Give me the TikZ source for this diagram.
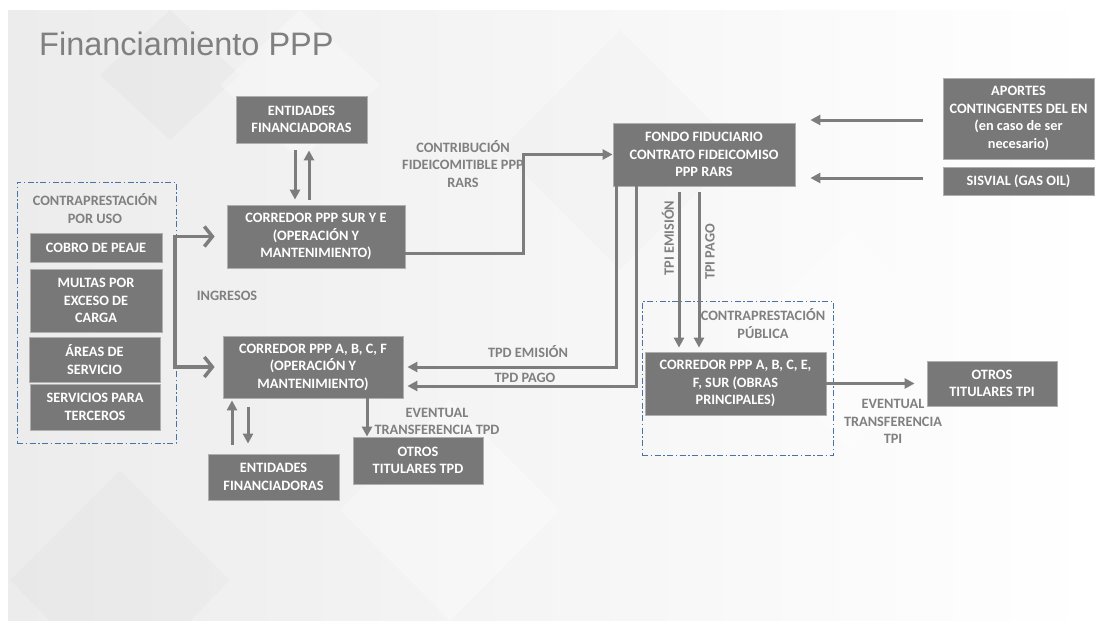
\documentclass[tikz,border=0pt]{standalone}
\usepackage{fontspec}
\setmainfont{Carlito}
\newfontfamily\titlefont{Liberation Sans}
\usetikzlibrary{arrows.meta}
\definecolor{boxgray}{RGB}{120,120,120}
\definecolor{boxedge}{RGB}{175,175,175}
\definecolor{linegray}{RGB}{125,125,125}
\definecolor{labgray}{RGB}{128,128,128}
\definecolor{dashblue}{RGB}{74,115,165}
\definecolor{bgleft}{RGB}{236,236,236}
\begin{document}
\begin{tikzpicture}[x=1pt,y=-1pt,
  box/.style={fill=boxgray, draw=boxedge, line width=0.8pt, text=white, font=\bfseries\fontsize{14.3}{17.5}\selectfont, align=center, inner sep=0pt},
  lab/.style={text=labgray, font=\bfseries\fontsize{14.3}{17.5}\selectfont, align=center, inner sep=0pt},
  conn/.style={draw=linegray, line width=3pt, -{Triangle[length=10pt,width=10pt]}},
  chev/.style={draw=linegray, line width=3.5pt, -{Straight Barb[length=8pt,width=20pt]}},
  grp/.style={draw=dashblue, line width=1pt, dash pattern=on 6pt off 2.5pt on 1.5pt off 2.5pt, inner sep=0pt}]
\useasboundingbox (0,0) rectangle (1096,621);
\fill[white] (0,0) rectangle (1096,621);
\fill[left color=bgleft, right color=white] (8,10) rectangle (1096,621);
% faint background diamonds
\fill[black, opacity=0.02] (170,10) -- (240,75) -- (170,140) -- (100,75) -- cycle;
\fill[white, opacity=0.3] (300,10) -- (380,85) -- (300,160) -- (220,85) -- cycle;
\fill[black, opacity=0.012] (620,30) -- (740,150) -- (620,270) -- (500,150) -- cycle;
\fill[white, opacity=0.3] (450,400) -- (560,510) -- (450,621) -- (340,510) -- cycle;
\fill[black, opacity=0.015] (120,470) -- (230,580) -- (190,621) -- (50,621) -- (10,580) -- cycle;
\fill[white, opacity=0.3] (850,230) -- (960,340) -- (850,450) -- (740,340) -- cycle;

% title
\node[anchor=base west, inner sep=0pt, text=labgray, font=\titlefont\fontsize{32.5}{38}\selectfont] (title) at (39,55) {Financiamiento PPP};

% group frames
\node[grp, minimum width=159pt, minimum height=261pt] (gl) at (96.5,312.5) {};
\node[grp, minimum width=191pt, minimum height=154pt] (gr) at (737.5,378) {};

% boxes
\node[box, minimum width=131pt, minimum height=47pt] (ent1) at (301.5,119.5) {ENTIDADES\\FINANCIADORAS};
\node[box, minimum width=178pt, minimum height=63pt] (sur) at (316,236.5) {CORREDOR PPP SUR Y E\\(OPERACIÓN Y\\MANTENIMIENTO)};
\node[box, minimum width=182pt, minimum height=63pt] (fondo) at (704,154.5) {FONDO FIDUCIARIO\\CONTRATO FIDEICOMISO\\PPP RARS};
\node[box, minimum width=151pt, minimum height=81pt] (aportes) at (1018.5,118.5) {APORTES\\CONTINGENTES DEL EN\\(en caso de ser\\necesario)};
\node[box, minimum width=151pt, minimum height=28pt] (sisvial) at (1018.5,181) {SISVIAL (GAS OIL)};
\node[box, minimum width=180pt, minimum height=62pt] (abcf) at (313,367) {CORREDOR PPP A, B, C, F\\(OPERACIÓN Y\\MANTENIMIENTO)};
\node[box, minimum width=181pt, minimum height=63pt] (abcef) at (735.5,383.5) {CORREDOR PPP A, B, C, E,\\F, SUR (OBRAS\\PRINCIPALES)};
\node[box, minimum width=130pt, minimum height=45pt] (tpi) at (992,383.5) {OTROS\\TITULARES TPI};
\node[box, minimum width=130pt, minimum height=47pt] (tpd) at (418,460.5) {OTROS\\TITULARES TPD};
\node[box, minimum width=131pt, minimum height=46pt] (ent2) at (273.5,477) {ENTIDADES\\FINANCIADORAS};
\node[box, minimum width=132pt, minimum height=29pt] (cobro) at (96,247.5) {COBRO DE PEAJE};
\node[box, minimum width=132pt, minimum height=63pt] (multas) at (96,300.5) {MULTAS POR\\EXCESO DE\\CARGA};
\node[box, minimum width=131pt, minimum height=45pt] (areas) at (94.5,359.5) {ÁREAS DE\\SERVICIO};
\node[box, minimum width=130pt, minimum height=46pt] (serv) at (95,407) {SERVICIOS PARA\\TERCEROS};

% labels
\node[lab] (lcuso) at (95,208.5) {CONTRAPRESTACIÓN\\POR USO};
\node[lab] (lcontrib) at (463,164) {CONTRIBUCIÓN\\FIDEICOMITIBLE PPP\\RARS};
\node[lab] (ling) at (227,296) {INGRESOS};
\node[lab] (ltpde) at (528,352) {TPD EMISIÓN};
\node[lab] (ltpdp) at (525,378) {TPD PAGO};
\node[lab] (levtpd) at (437,421.5) {EVENTUAL\\TRANSFERENCIA TPD};
\node[lab, rotate=90] (ltpie) at (668,238) {TPI EMISIÓN};
\node[lab, rotate=90] (ltpip) at (710,252) {TPI PAGO};
\node[lab] (lcpub) at (763,323.5) {CONTRAPRESTACIÓN\\PÚBLICA};
\node[lab] (levtpi) at (893,421.5) {EVENTUAL\\TRANSFERENCIA\\TPI};

% helper coordinates
\coordinate (xa) at (295,0); \coordinate (xb) at (309,0);
\coordinate (c2) at (523,200);
\coordinate (brk) at (175,303);
\coordinate (xe) at (616,0); \coordinate (xp) at (636,0);
\coordinate (xi1) at (679,0); \coordinate (xi2) at (699,0);
\coordinate (ya) at (0,120); \coordinate (yb) at (0,178);
\coordinate (xd) at (367,0);
\coordinate (xu) at (232,0); \coordinate (xw) at (248,0);

% connectors
\draw[conn, shorten <=7pt, shorten >=5pt] (ent1.south -| xa) -- (sur.north -| xa);
\draw[conn, shorten <=5pt, shorten >=7pt] (sur.north -| xb) -- (ent1.south -| xb);
\draw[conn] ([yshift=-16.5pt]sur.east) -| (c2) |- (fondo);
\draw[chev, shorten >=12pt] (brk) |- (sur);
\draw[chev, shorten >=8pt] (brk) |- (abcf);
\draw[conn, shorten >=4pt] (fondo.south -| xe) |- (abcf.east);
\draw[conn, shorten >=4pt] (fondo.south -| xp) |- ([yshift=-19pt]abcf.east);
\draw[conn, shorten <=6pt, shorten >=4pt] (fondo.south -| xi1) -- (abcef.north -| xi1);
\draw[conn, shorten <=6pt, shorten >=4pt] (fondo.south -| xi2) -- (abcef.north -| xi2);
\draw[conn, shorten <=20pt, shorten >=15pt] (aportes.west |- ya) -- (fondo.east |- ya);
\draw[conn, shorten <=20pt, shorten >=15pt] (sisvial.west |- yb) -- (fondo.east |- yb);
\draw[conn, shorten >=12pt] (abcef.east) -- (tpi.west);
\draw[conn] (abcf.south -| xd) -- (tpd.north -| xd);
\draw[conn, shorten <=9pt, shorten >=2pt] (ent2.north -| xu) -- (abcf.south -| xu);
\draw[conn, shorten <=9pt, shorten >=10pt] (abcf.south -| xw) -- (ent2.north -| xw);
\end{tikzpicture}
\end{document}
